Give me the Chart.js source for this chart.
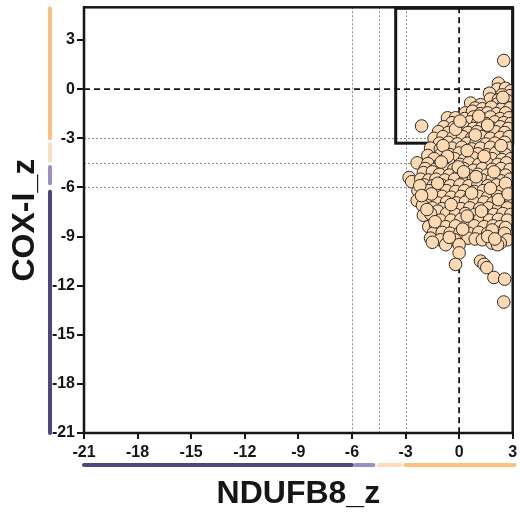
<!DOCTYPE html>
<html>
<head>
<meta charset="utf-8">
<script src="https://cdn.jsdelivr.net/npm/chart.js@4.4.0/dist/chart.umd.min.js"></script>
<style>
  html, body { margin: 0; padding: 0; background: #fff; }
</style>
</head>
<body>
<canvas id="myChart" width="520" height="521"></canvas>
<script>
// axis setup
const xRange = [-21, 3];
const yRange = [-21, 5];
const xTicks = [-21, -18, -15, -12, -9, -6, -3, 0, 3];
const yTicks = [-21, -18, -15, -12, -9, -6, -3, 0, 3];

// dotted cut-off lines (both axes) and dashed zero lines
const cutoffs = [-6, -4.5, -3];
const zeroLines = [0];

// gate rectangle in the upper right
const gateX = [-3.55, 3];
const gateY = [-3.3, 5];

// coloured category bars along each axis
const xBands = [[-21, -6], [-5.8, -4.8], [-4.5, -3.3], [-3, 3.1]];
const yBands = [[-21, -6.2], [-5.75, -4.7], [-4.35, -3.3], [-3, 5]];
const bandColors = ['#514480', '#9c8fc4', '#fddcbd', '#fcc080'];

// cells: [NDUFB8_z, COX-I_z]
const cells = [
  [2.5,1.75],
  [2.2,0.36],[2.15,0.0],[2.6,0.05],[2.9,-0.1],
  [1.7,-0.25],[2.4,-0.35],[2.85,-0.4],
  [1.75,-0.6],[2.2,-0.65],[2.7,-0.7],
  [0.65,-0.85],[1.2,-0.95],[2.15,-0.9],[2.5,-0.95],
  [0.9,-1.15],[1.3,-1.2],[1.8,-1.1],[2.4,-1.2],[2.85,-1.15],
  [0.35,-1.45],[0.75,-1.35],[1.2,-1.5],[1.6,-1.45],[2.1,-1.5],[2.6,-1.45],
  [-0.65,-1.75],[-0.2,-1.75],[0.3,-1.8],[0.8,-1.7],[1.3,-1.8],[1.75,-1.7],[2.3,-1.8],[2.8,-1.75],
  [-0.4,-2.05],[0.1,-2.1],[0.6,-2.0],[1.05,-2.05],[1.5,-2.1],[2.0,-2.0],[2.5,-2.05],[2.9,-2.1],
  [-2.1,-2.25],[-0.85,-2.3],[-0.3,-2.35],[0.25,-2.3],[0.8,-2.4],[1.3,-2.3],[1.8,-2.35],[2.3,-2.3],[2.75,-2.4],
  [-1.15,-2.6],[-0.6,-2.65],[-0.05,-2.6],[0.5,-2.65],[1.0,-2.6],[1.55,-2.7],[2.05,-2.6],[2.55,-2.65],
  [-1.4,-3.0],[-0.9,-2.9],[-0.35,-2.95],[0.2,-2.9],[0.7,-3.0],[1.25,-2.9],[1.75,-3.0],[2.3,-2.95],[2.8,-2.9],
  [-1.1,-3.3],[-0.6,-3.25],[-0.1,-3.35],[0.45,-3.3],[0.95,-3.25],[1.5,-3.35],[2.0,-3.3],[2.55,-3.25],
  [-1.6,-3.6],[-1.05,-3.65],[-0.4,-3.6],[0.15,-3.55],[0.7,-3.65],[1.2,-3.6],[1.75,-3.55],[2.25,-3.65],[2.8,-3.6],
  [-1.75,-4.05],[-1.0,-3.95],[-0.5,-4.0],[0.0,-3.9],[0.5,-4.0],[1.05,-3.95],[1.55,-4.0],[2.05,-3.9],[2.6,-4.0],
  [-1.4,-4.25],[-0.8,-4.3],[-0.25,-4.25],[0.3,-4.3],[0.8,-4.2],[1.35,-4.3],[1.85,-4.25],[2.4,-4.3],[2.9,-4.25],
  [-2.35,-4.5],[-1.75,-4.55],[-1.1,-4.6],[-0.55,-4.55],[0.05,-4.6],[0.55,-4.5],[1.1,-4.6],[1.6,-4.55],[2.15,-4.6],[2.65,-4.5],
  [-1.9,-4.85],[-1.35,-4.9],[-0.8,-4.85],[-0.3,-4.9],[0.25,-4.85],[0.8,-4.95],[1.3,-4.85],[1.85,-4.9],[2.35,-4.85],[2.85,-4.9],
  [-2.0,-5.1],[-1.5,-5.05],[-1.1,-5.2],[-0.55,-5.25],[0.0,-5.2],[0.5,-5.25],[1.05,-5.2],[1.55,-5.25],[2.1,-5.2],[2.6,-5.25],
  [-2.8,-5.4],[-2.65,-5.65],
  [-2.15,-5.5],[-1.7,-5.55],[-1.3,-5.5],[-0.8,-5.55],[-0.25,-5.5],[0.3,-5.6],[0.8,-5.5],[1.3,-5.55],[1.85,-5.5],[2.35,-5.6],[2.85,-5.5],
  [-1.95,-5.85],[-1.45,-5.9],[-1.0,-5.85],[-0.5,-5.9],[0.05,-5.85],[0.55,-5.9],[1.05,-5.85],[1.6,-5.9],[2.1,-5.85],[2.6,-5.9],
  [-2.3,-6.2],[-1.7,-6.2],[-1.2,-6.25],[-0.7,-6.2],[-0.2,-6.25],[0.3,-6.2],[0.85,-6.25],[1.35,-6.2],[1.85,-6.25],[2.4,-6.2],[2.9,-6.25],
  [-1.95,-6.55],[-1.45,-6.6],[-0.95,-6.55],[-0.45,-6.6],[0.1,-6.55],[0.6,-6.6],[1.1,-6.55],[1.6,-6.6],[2.15,-6.55],[2.65,-6.6],
  [-2.35,-6.8],
  [-1.7,-6.9],[-1.2,-6.95],[-0.7,-6.9],[-0.15,-6.95],[0.35,-6.9],[0.85,-6.95],[1.4,-6.9],[1.9,-6.95],[2.45,-6.9],[2.9,-6.95],
  [-2.05,-7.1],
  [-1.5,-7.25],[-0.95,-7.3],[-0.4,-7.25],[0.1,-7.3],[0.6,-7.25],[1.15,-7.3],[1.65,-7.25],[2.2,-7.3],[2.7,-7.25],
  [-2.0,-7.7],[-1.2,-7.45],[-1.6,-7.6],[-0.7,-7.6],[-0.2,-7.65],[0.35,-7.6],[0.9,-7.65],[1.4,-7.6],[1.95,-7.65],[2.45,-7.6],[2.9,-7.65],
  [-1.05,-8.0],[-0.45,-8.0],[0.1,-7.95],[0.6,-8.0],[1.15,-7.95],[1.7,-8.0],[2.2,-7.95],[2.7,-8.0],
  [-1.7,-8.4],[-1.3,-8.35],[-0.75,-8.4],[-0.2,-8.35],[0.35,-8.4],[0.85,-8.35],[1.4,-8.4],[1.9,-8.35],[2.3,-8.4],[2.6,-8.45],
  [-1.45,-8.8],[-0.95,-8.75],[-0.5,-8.8],[0.05,-8.75],[0.55,-8.8],[1.1,-8.75],[1.6,-8.8],[2.05,-8.75],[2.55,-8.8],
  [-1.6,-9.1],[0.5,-9.1],
  [-1.05,-9.2],[-0.25,-9.2],[0.9,-9.15],[1.3,-9.2],[2.7,-9.2],
  [-1.5,-9.35],[1.85,-9.4],[2.3,-9.4],[2.15,-9.5],
  [-0.75,-9.5],[0.0,-9.5],
  [0.0,-10.0],
  [1.2,-10.5],[-0.2,-10.7],[1.4,-10.7],[1.55,-10.9],[1.95,-11.5],[2.55,-11.6],[2.5,-13.0],
  // cells lying on top, out of row order
  [-0.9,-3.45],[0.45,-3.75],[1.4,-4.1],[-0.05,-4.75],[1.95,-5.05],[-1.2,-5.75],[0.7,-6.35],
  [2.2,-6.75],[-0.45,-7.05],[1.25,-7.45],[-1.35,-8.1],[0.2,-8.55],[1.85,-8.6],[2.35,-3.45],
  [0.9,-2.8],[-0.2,-2.45],[1.6,-2.2],[2.6,-5.75],[-1.55,-6.4],[0.95,-5.35],[-0.65,-4.1],
  [2.75,-6.4],[-1.8,-7.35],[0.45,-7.75],[1.6,-9.0],[-0.55,-9.05],[2.0,-9.15],[-2.2,-5.9],
  [-2.1,-6.5],[1.1,-1.65],[2.45,-0.5],[0.05,-1.95],[-1.0,-4.45],[1.75,-6.05],[0.25,-5.05]
];

const ink = '#161616';
const tickFont = { family: "'Liberation Sans Narrow', 'Liberation Sans', Arial, sans-serif", size: 16, weight: 'bold' };
const titleFont = { family: "'Liberation Sans', Arial, sans-serif", size: 32, weight: 'bold', lineHeight: 1 };

const refLines = {
  id: 'refLines',
  beforeDatasetsDraw(chart) {
    const { ctx, chartArea: a, scales: { x, y } } = chart;
    ctx.save();
    ctx.strokeStyle = '#8c8c8c';
    ctx.lineWidth = 1;
    ctx.setLineDash([2, 2]);
    cutoffs.forEach(v => {
      const px = Math.round(x.getPixelForValue(v)) + 0.5;
      ctx.beginPath(); ctx.moveTo(px, a.top); ctx.lineTo(px, a.bottom); ctx.stroke();
      const py = Math.round(y.getPixelForValue(v)) + 0.5;
      ctx.beginPath(); ctx.moveTo(a.left, py); ctx.lineTo(a.right, py); ctx.stroke();
    });
    ctx.strokeStyle = ink;
    ctx.lineWidth = 1.8;
    ctx.setLineDash([6, 4]);
    zeroLines.forEach(v => {
      const px = x.getPixelForValue(v);
      ctx.beginPath(); ctx.moveTo(px, a.top); ctx.lineTo(px, a.bottom); ctx.stroke();
      const py = y.getPixelForValue(v);
      ctx.beginPath(); ctx.moveTo(a.left, py); ctx.lineTo(a.right, py); ctx.stroke();
    });
    // gate box
    ctx.setLineDash([]);
    ctx.lineWidth = 3;
    const gx0 = x.getPixelForValue(gateX[0]), gx1 = x.getPixelForValue(gateX[1]);
    const gy0 = y.getPixelForValue(gateY[0]), gy1 = y.getPixelForValue(gateY[1]);
    ctx.strokeRect(gx0, gy1 + 1, gx1 - gx0, gy0 - gy1 - 1);
    ctx.restore();
  },
  afterDraw(chart) {
    const { ctx, chartArea: a, scales: { x, y } } = chart;
    ctx.save();
    // frame
    ctx.strokeStyle = ink;
    ctx.lineWidth = 2.5;
    ctx.strokeRect(a.left, a.top, a.right - a.left, a.bottom - a.top);
    // category bars
    ctx.lineWidth = 4;
    ctx.lineCap = 'round';
    const barY = a.bottom + 32;
    const barX = a.left - 34;
    xBands.forEach((b, i) => {
      ctx.strokeStyle = bandColors[i];
      ctx.beginPath();
      ctx.moveTo(x.getPixelForValue(b[0]), barY);
      ctx.lineTo(x.getPixelForValue(b[1]), barY);
      ctx.stroke();
    });
    yBands.forEach((b, i) => {
      ctx.strokeStyle = bandColors[i];
      ctx.beginPath();
      ctx.moveTo(barX, y.getPixelForValue(b[0]));
      ctx.lineTo(barX, y.getPixelForValue(b[1]) + 1);
      ctx.stroke();
    });
    ctx.restore();
  }
};

new Chart(document.getElementById('myChart'), {
  type: 'scatter',
  data: {
    datasets: [{
      data: cells.map(c => ({ x: c[0], y: c[1] })),
      backgroundColor: '#fed9b1',
      borderColor: '#2a2a2a',
      borderWidth: 1,
      pointRadius: 6.3,
      clip: 0
    }]
  },
  options: {
    responsive: false,
    animation: false,
    layout: { padding: { top: 5, right: 7, left: 0, bottom: 0 } },
    plugins: { legend: { display: false }, tooltip: { enabled: false } },
    scales: {
      x: {
        type: 'linear',
        min: xRange[0],
        max: xRange[1],
        afterBuildTicks: ax => { ax.ticks = xTicks.map(v => ({ value: v })); },
        afterFit: s => { s.height = 88; s.paddingLeft = 0; s.paddingRight = 0; },
        ticks: { color: ink, font: tickFont, padding: 4, maxRotation: 0, autoSkip: false },
        grid: { drawOnChartArea: false, tickLength: 6, color: ink, lineWidth: 2 },
        border: { color: ink, width: 2 },
        title: { display: true, text: 'NDUFB8_z', color: ink, font: titleFont, padding: { top: 0, bottom: 11 } }
      },
      y: {
        type: 'linear',
        min: yRange[0],
        max: yRange[1],
        afterBuildTicks: ax => { ax.ticks = yTicks.map(v => ({ value: v })); },
        afterFit: s => { s.width = 84; s.paddingTop = 0; s.paddingBottom = 0; },
        ticks: { color: ink, font: tickFont, padding: 2 },
        grid: { drawOnChartArea: false, tickLength: 7, color: ink, lineWidth: 2 },
        border: { color: ink, width: 2 },
        title: { display: true, text: 'COX-I_z', color: ink, font: titleFont, padding: { top: 9, bottom: 0 } }
      }
    }
  },
  plugins: [refLines]
});
</script>
</body>
</html>
